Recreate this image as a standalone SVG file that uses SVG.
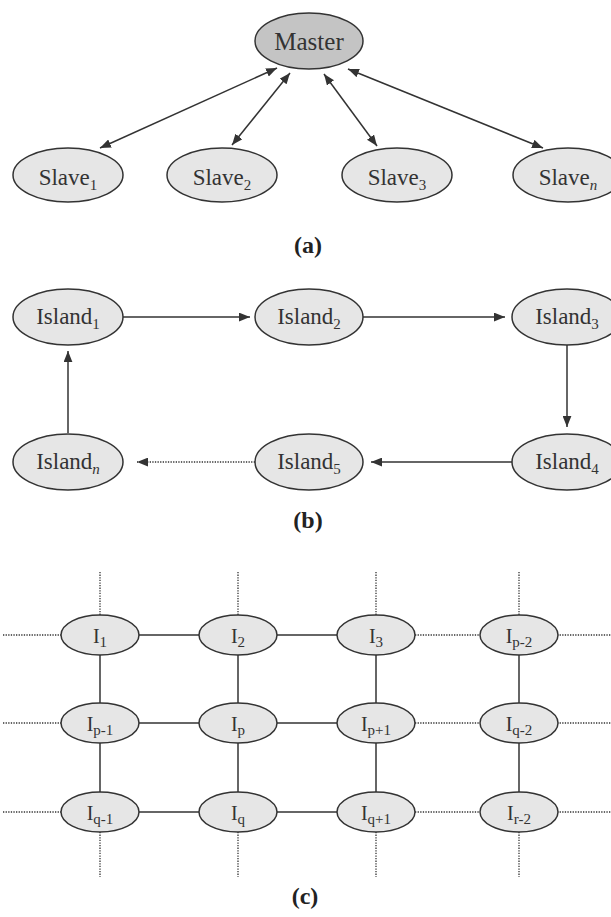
<svg xmlns="http://www.w3.org/2000/svg" width="611" height="917" viewBox="0 0 611 917">
<style>
.n{fill:#e6e6e6;stroke:#333;stroke-width:1.5}
.m{fill:#c4c4c4;stroke:#333;stroke-width:1.5}
text{font-family:'Liberation Serif',serif}
.t{fill:#333;text-anchor:middle}
.big{font-size:23px}
.g{font-size:20px}
.sub{font-size:15px}
.cap{font-weight:bold;font-size:24px;fill:#222;text-anchor:middle}
.c{stroke:#333;stroke-width:1.5;fill:none}
.d{stroke:#333;stroke-width:1.3;fill:none;stroke-dasharray:1.3 1.3}
</style>
<defs>
<marker id="ah" viewBox="0 0 10 8" refX="10" refY="4" markerWidth="11" markerHeight="9" markerUnits="userSpaceOnUse" orient="auto-start-reverse">
<path d="M0,0 L10,4 L0,8 Z" fill="#333"/>
</marker>
</defs>
<g id="connectors">
<line class="c" x1="100" y1="148" x2="277" y2="68" marker-start="url(#ah)" marker-end="url(#ah)"/>
<line class="c" x1="232" y1="145" x2="290" y2="73" marker-start="url(#ah)" marker-end="url(#ah)"/>
<line class="c" x1="377" y1="146" x2="324" y2="74" marker-start="url(#ah)" marker-end="url(#ah)"/>
<line class="c" x1="543" y1="148" x2="348" y2="69" marker-start="url(#ah)" marker-end="url(#ah)"/>
<line class="c" x1="123" y1="317" x2="250" y2="317" marker-end="url(#ah)"/>
<line class="c" x1="363" y1="317" x2="505" y2="317" marker-end="url(#ah)"/>
<line class="c" x1="567" y1="345" x2="567" y2="427" marker-end="url(#ah)"/>
<line class="c" x1="512" y1="462" x2="371" y2="462" marker-end="url(#ah)"/>
<line class="d" x1="255" y1="462" x2="137" y2="462" marker-end="url(#ah)"/>
<line class="c" x1="68" y1="433" x2="68" y2="351" marker-end="url(#ah)"/>
<g class="c">
<line x1="138" y1="635" x2="199" y2="635"/><line x1="277" y1="635" x2="337" y2="635"/>
<line x1="138" y1="723" x2="199" y2="723"/><line x1="277" y1="723" x2="337" y2="723"/>
<line x1="138" y1="812" x2="199" y2="812"/><line x1="277" y1="812" x2="337" y2="812"/>
<line x1="100" y1="655" x2="100" y2="704"/><line x1="100" y1="743" x2="100" y2="793"/>
<line x1="238" y1="655" x2="238" y2="704"/><line x1="238" y1="743" x2="238" y2="793"/>
<line x1="376" y1="655" x2="376" y2="704"/><line x1="376" y1="743" x2="376" y2="793"/>
<line x1="519" y1="655" x2="519" y2="704"/><line x1="519" y1="743" x2="519" y2="793"/>
</g>
<g class="d">
<line x1="3" y1="635" x2="61" y2="635"/><line x1="415" y1="635" x2="480" y2="635"/><line x1="557" y1="635" x2="611" y2="635"/>
<line x1="3" y1="723" x2="61" y2="723"/><line x1="415" y1="723" x2="480" y2="723"/><line x1="557" y1="723" x2="611" y2="723"/>
<line x1="3" y1="812" x2="61" y2="812"/><line x1="415" y1="812" x2="480" y2="812"/><line x1="557" y1="812" x2="611" y2="812"/>
<line x1="100" y1="572" x2="100" y2="615"/><line x1="238" y1="572" x2="238" y2="615"/><line x1="376" y1="572" x2="376" y2="615"/><line x1="519" y1="572" x2="519" y2="615"/>
<line x1="100" y1="832" x2="100" y2="877"/><line x1="238" y1="832" x2="238" y2="877"/><line x1="376" y1="832" x2="376" y2="877"/><line x1="519" y1="832" x2="519" y2="877"/>
</g>
</g>
<g id="master"><ellipse class="m" cx="309" cy="41" rx="54" ry="28"/><text class="t" x="309" y="50" font-size="25">Master</text></g>
<g id="slave1"><ellipse class="n" cx="68" cy="175" rx="55" ry="27"/><text class="t big" x="68" y="185">Slave<tspan class="sub" dy="5">1</tspan></text></g>
<g id="slave2"><ellipse class="n" cx="222" cy="175" rx="55" ry="27"/><text class="t big" x="222" y="185">Slave<tspan class="sub" dy="5">2</tspan></text></g>
<g id="slave3"><ellipse class="n" cx="397" cy="175" rx="55" ry="27"/><text class="t big" x="397" y="185">Slave<tspan class="sub" dy="5">3</tspan></text></g>
<g id="slaven"><ellipse class="n" cx="568" cy="175" rx="55" ry="27"/><text class="t big" x="568" y="185">Slave<tspan class="sub" dy="5" font-style="italic">n</tspan></text></g>
<text class="cap" x="308" y="253">(a)</text>
<g id="island1"><ellipse class="n" cx="68" cy="317" rx="55" ry="28"/><text class="t big" x="68" y="324">Island<tspan class="sub" dy="5">1</tspan></text></g>
<g id="island2"><ellipse class="n" cx="309" cy="317" rx="54" ry="28"/><text class="t big" x="309" y="324">Island<tspan class="sub" dy="5">2</tspan></text></g>
<g id="island3"><ellipse class="n" cx="567" cy="317" rx="55" ry="28"/><text class="t big" x="567" y="324">Island<tspan class="sub" dy="5">3</tspan></text></g>
<g id="island4"><ellipse class="n" cx="567" cy="462" rx="55" ry="28"/><text class="t big" x="567" y="469">Island<tspan class="sub" dy="5">4</tspan></text></g>
<g id="island5"><ellipse class="n" cx="309" cy="462" rx="54" ry="28"/><text class="t big" x="309" y="469">Island<tspan class="sub" dy="5">5</tspan></text></g>
<g id="islandn"><ellipse class="n" cx="68" cy="462" rx="55" ry="28"/><text class="t big" x="68" y="469">Island<tspan class="sub" dy="5" font-style="italic">n</tspan></text></g>
<text class="cap" x="308" y="528">(b)</text>
<g id="I1"><ellipse class="n" cx="100" cy="635" rx="39" ry="20"/><text class="t g" x="100" y="643">I<tspan class="sub" dy="4">1</tspan></text></g>
<g id="I2"><ellipse class="n" cx="238" cy="635" rx="39" ry="20"/><text class="t g" x="238" y="643">I<tspan class="sub" dy="4">2</tspan></text></g>
<g id="I3"><ellipse class="n" cx="376" cy="635" rx="39" ry="20"/><text class="t g" x="376" y="643">I<tspan class="sub" dy="4">3</tspan></text></g>
<g id="Ip-2"><ellipse class="n" cx="519" cy="635" rx="39" ry="20"/><text class="t g" x="519" y="643">I<tspan class="sub" dy="4">p-2</tspan></text></g>
<g id="Ip-1"><ellipse class="n" cx="100" cy="723" rx="39" ry="20"/><text class="t g" x="100" y="731">I<tspan class="sub" dy="4">p-1</tspan></text></g>
<g id="Ip"><ellipse class="n" cx="238" cy="723" rx="39" ry="20"/><text class="t g" x="238" y="731">I<tspan class="sub" dy="4">p</tspan></text></g>
<g id="Ip+1"><ellipse class="n" cx="376" cy="723" rx="39" ry="20"/><text class="t g" x="376" y="731">I<tspan class="sub" dy="4">p+1</tspan></text></g>
<g id="Iq-2"><ellipse class="n" cx="519" cy="723" rx="39" ry="20"/><text class="t g" x="519" y="731">I<tspan class="sub" dy="4">q-2</tspan></text></g>
<g id="Iq-1"><ellipse class="n" cx="100" cy="812" rx="39" ry="20"/><text class="t g" x="100" y="820">I<tspan class="sub" dy="4">q-1</tspan></text></g>
<g id="Iq"><ellipse class="n" cx="238" cy="812" rx="39" ry="20"/><text class="t g" x="238" y="820">I<tspan class="sub" dy="4">q</tspan></text></g>
<g id="Iq+1"><ellipse class="n" cx="376" cy="812" rx="39" ry="20"/><text class="t g" x="376" y="820">I<tspan class="sub" dy="4">q+1</tspan></text></g>
<g id="Ir-2"><ellipse class="n" cx="519" cy="812" rx="39" ry="20"/><text class="t g" x="519" y="820">I<tspan class="sub" dy="4">r-2</tspan></text></g>
<text class="cap" x="305" y="904">(c)</text>
</svg>
